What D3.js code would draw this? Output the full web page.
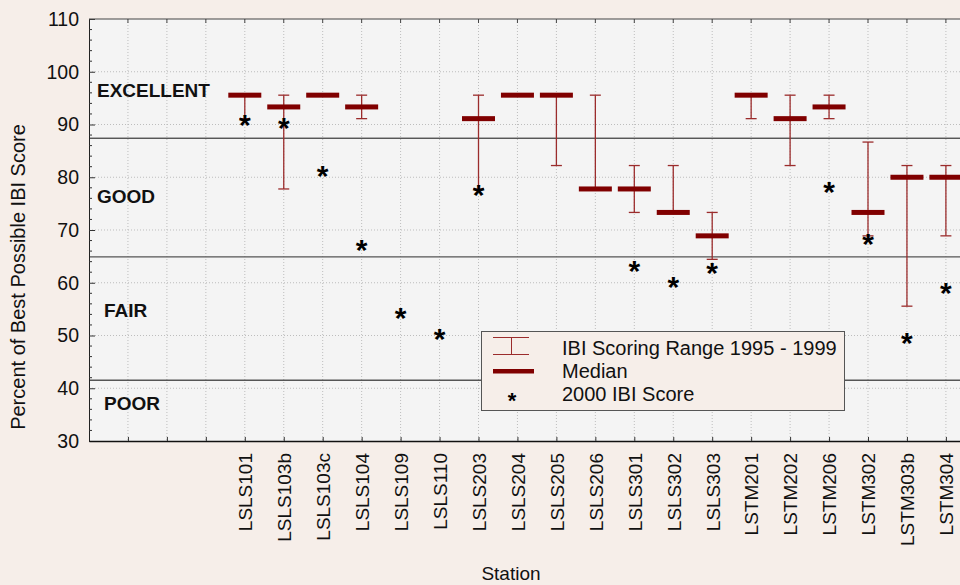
<!DOCTYPE html>
<html>
<head>
<meta charset="utf-8">
<script src="https://cdn.jsdelivr.net/npm/d3@7"></script>
<style>
  body { margin: 0; background: #f6eee9; }
  svg { display: block; font-family: "Liberation Sans", Arial, sans-serif; }
</style>
</head>
<body>
<svg id="chart"></svg>
<script>
var width = 960, height = 585;
var svg = d3.select("#chart").attr("width", width).attr("height", height);

// stations and values
var stations = ["LSLS101", "LSLS103b", "LSLS103c", "LSLS104", "LSLS109", "LSLS110", "LSLS203", "LSLS204", "LSLS205", "LSLS206",
  "LSLS301", "LSLS302", "LSLS303", "LSTM201", "LSTM202", "LSTM206", "LSTM302", "LSTM303b", "LSTM304"];
var rangeMax = [95.56, 95.56, 95.56, 95.56, null, null, 95.56, 95.56, 95.56, 95.56, 82.22, 82.22, 73.33, 95.56, 95.56, 95.56, 86.67, 82.22, 82.22];
var rangeMin = [91.11, 77.78, 95.56, 91.11, null, null, 77.78, 95.56, 82.22, 77.78, 73.33, 73.33, 64.44, 91.11, 82.22, 91.11, 68.89, 55.56, 68.89];
var medians  = [95.56, 93.33, 95.56, 93.33, null, null, 91.11, 95.56, 95.56, 77.78, 77.78, 73.33, 68.89, 95.56, 91.11, 93.33, 73.33, 80.00, 80.00];
var score2000 = [90.9, 90.2, 81.1, 67.2, 54.3, 50.2, 77.6, null, null, null, 63.2, 60.1, 62.8, null, null, 78.2, 68.2, 49.5, 59.0];

var classNames = ["EXCELLENT", "GOOD", "FAIR", "POOR"];
var classLabelAt = [96.5, 76.3, 54.7, 37.1];
var classBounds = [87.5, 65, 41.6];
var yTicks = [30, 40, 50, 60, 70, 80, 90, 100, 110];

var plotLeft = 89, plotTop = 19, plotBottom = 441, step = 38.95;
var x = d3.scaleLinear().domain([-4, 20]).range([plotLeft, plotLeft + 24 * step]);
var y = d3.scaleLinear().domain([30, 110]).range([plotBottom, plotTop]);
var plotRight = x(20);

// plot background
svg.append("rect").attr("x", plotLeft).attr("y", plotTop).attr("width", plotRight - plotLeft).attr("height", plotBottom - plotTop)
  .attr("fill", "#f4f4f4");

// dotted grid
var grid = svg.append("g").attr("stroke", "#bdbdbd").attr("stroke-dasharray", "1,2").attr("stroke-width", 1);
grid.selectAll("line.h").data(yTicks.slice(1, -1)).enter().append("line")
  .attr("x1", plotLeft).attr("x2", plotRight).attr("y1", function(d) { return y(d); }).attr("y2", function(d) { return y(d); });
grid.selectAll("line.v").data(d3.range(-3, 20)).enter().append("line")
  .attr("y1", plotTop).attr("y2", plotBottom).attr("x1", function(d) { return x(d); }).attr("x2", function(d) { return x(d); });

// class boundary lines
svg.append("g").selectAll("line").data(classBounds).enter().append("line")
  .attr("x1", plotLeft).attr("x2", plotRight)
  .attr("y1", function(d) { return y(d) + 0.5; }).attr("y2", function(d) { return y(d) + 0.5; })
  .attr("stroke", function(d, i) { return i == 0 ? "#111" : "#555"; })
  .attr("stroke-width", function(d, i) { return i == 0 ? 1 : 1.4; });

// class labels
svg.append("g").selectAll("text").data(classNames).enter().append("text")
  .attr("x", function(d, i) { return i < 2 ? 97 : 104; })
  .attr("y", function(d, i) { return y(classLabelAt[i]); })
  .attr("dy", "0.35em")
  .attr("font-weight", "bold").attr("font-size", "19px").attr("fill", "#111")
  .text(function(d) { return d; });

// axes
var yAxis = d3.axisLeft(y).tickValues(yTicks).tickSizeInner(-6).tickSizeOuter(0).tickPadding(10);
var gy = svg.append("g").attr("transform", "translate(" + plotLeft + ",0)").call(yAxis);
gy.attr("font-size", null).attr("font-family", null);
gy.selectAll("text").style("font-size", "19.5px").attr("fill", "#111");
gy.select(".domain").attr("stroke", "#222");
gy.selectAll(".tick line").attr("stroke", "#333");
// minor ticks
svg.append("g").selectAll("line").data(d3.range(32, 110, 2).filter(function(d) { return d % 10 != 0; })).enter().append("line")
  .attr("x1", plotLeft).attr("x2", plotLeft + 3)
  .attr("y1", function(d) { return y(d); }).attr("y2", function(d) { return y(d); })
  .attr("stroke", "#333");

var xAxis = d3.axisBottom(x).tickValues(d3.range(-3, 20)).tickSizeInner(-4).tickSizeOuter(0)
  .tickFormat(function(d) { return d >= 0 ? stations[d] : ""; });
var gx = svg.append("g").attr("transform", "translate(0," + plotBottom + ")").call(xAxis);
gx.attr("font-size", null).attr("font-family", null);
gx.select(".domain").attr("stroke", "#111").attr("stroke-width", 1.3);
gx.selectAll(".tick line").attr("stroke", "#333");
gx.selectAll("text")
  .style("font-size", "19px").attr("fill", "#111")
  .attr("text-anchor", "end")
  .attr("transform", "rotate(-90)")
  .attr("x", -12).attr("y", 0).attr("dy", "0.36em");

// top frame with inward ticks
svg.append("line").attr("x1", plotLeft).attr("x2", plotRight).attr("y1", plotTop).attr("y2", plotTop).attr("stroke", "#444");
svg.append("g").selectAll("line").data(d3.range(-3, 20)).enter().append("line")
  .attr("x1", function(d) { return x(d); }).attr("x2", function(d) { return x(d); })
  .attr("y1", plotTop).attr("y2", plotTop + 4).attr("stroke", "#444");

// axis titles
svg.append("text").attr("transform", "translate(25," + ((plotTop + plotBottom) / 2 + 47) + ") rotate(-90)")
  .attr("text-anchor", "middle").attr("font-size", "20px").attr("fill", "#111")
  .text("Percent of Best Possible IBI Score");
svg.append("text").attr("x", 511).attr("y", 580).attr("text-anchor", "middle")
  .attr("font-size", "19px").attr("fill", "#111").text("Station");

// ranges
var idx = d3.range(stations.length);
var whiskerColor = "#9b2c2c";
var rg = svg.append("g").attr("stroke", whiskerColor).attr("stroke-width", 1.3);
var hasRange = idx.filter(function(i) { return rangeMax[i] != null && rangeMax[i] != rangeMin[i]; });
rg.selectAll("line.stem").data(hasRange).enter().append("line")
  .attr("x1", function(i) { return x(i); }).attr("x2", function(i) { return x(i); })
  .attr("y1", function(i) { return y(rangeMax[i]); }).attr("y2", function(i) { return y(rangeMin[i]); });
rg.selectAll("line.capT").data(hasRange).enter().append("line")
  .attr("x1", function(i) { return x(i) - 5.5; }).attr("x2", function(i) { return x(i) + 5.5; })
  .attr("y1", function(i) { return y(rangeMax[i]); }).attr("y2", function(i) { return y(rangeMax[i]); });
rg.selectAll("line.capB").data(hasRange).enter().append("line")
  .attr("x1", function(i) { return x(i) - 5.5; }).attr("x2", function(i) { return x(i) + 5.5; })
  .attr("y1", function(i) { return y(rangeMin[i]); }).attr("y2", function(i) { return y(rangeMin[i]); });

// medians
svg.append("g").selectAll("rect").data(idx.filter(function(i) { return medians[i] != null; })).enter().append("rect")
  .attr("x", function(i) { return x(i) - 16.5; }).attr("width", 33)
  .attr("y", function(i) { return y(medians[i]) - 2.5; }).attr("height", 5)
  .attr("fill", "#800000");

// 2000 scores
svg.append("g").selectAll("text").data(idx.filter(function(i) { return score2000[i] != null; })).enter().append("text")
  .attr("x", function(i) { return x(i); }).attr("y", function(i) { return y(score2000[i]); })
  .attr("dy", "0.5em").attr("text-anchor", "middle")
  .attr("font-size", "30px").attr("font-weight", "bold").attr("fill", "#000")
  .text("*");

// legend
var lg = svg.append("g").attr("transform", "translate(481,331)");
lg.append("rect").attr("x", 0.5).attr("y", 0.5).attr("width", 363).attr("height", 79)
  .attr("fill", "#f6eee9").attr("stroke", "#555");
lg.append("line").attr("x1", 12).attr("x2", 48).attr("y1", 6.5).attr("y2", 6.5).attr("stroke", whiskerColor);
lg.append("line").attr("x1", 12).attr("x2", 48).attr("y1", 23.5).attr("y2", 23.5).attr("stroke", whiskerColor);
lg.append("line").attr("x1", 30.5).attr("x2", 30.5).attr("y1", 6.5).attr("y2", 23.5).attr("stroke", whiskerColor);
lg.append("rect").attr("x", 12).attr("y", 38).attr("width", 41).attr("height", 4.5).attr("fill", "#800000");
lg.append("text").attr("x", 31).attr("y", 65).attr("dy", "0.55em").attr("text-anchor", "middle")
  .attr("font-size", "22px").attr("font-weight", "bold").text("*");
var legendTexts = ["IBI Scoring Range 1995 - 1999", "Median", "2000 IBI Score"];
lg.selectAll("text.item").data(legendTexts).enter().append("text")
  .attr("x", 81).attr("y", function(d, i) { return 23.5 + i * 23.3; })
  .attr("font-size", "20px").attr("fill", "#111").text(function(d) { return d; });
</script>
</body>
</html>
